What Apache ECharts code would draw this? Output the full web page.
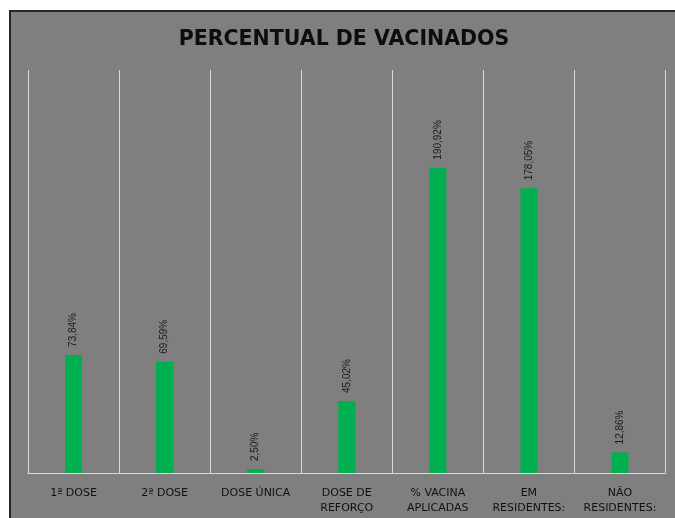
<!DOCTYPE html>
<html lang="pt">

<head>
    <meta charset="UTF-8" />
    <title>Percentual de vacinados</title>
    <script src="https://cdn.jsdelivr.net/npm/echarts@6/dist/echarts.min.js"></script>
    <style>
        html, body { margin: 0; padding: 0; background: #ffffff; overflow: hidden; }
        #main {
            position: absolute; left: 9px; top: 10px;
            width: 666px; height: 508px;
            border: 2px solid #262626;
            background: #7f7f7f;
        }
    </style>
</head>

<body>
    <div id="main"></div>
</body>
<script>
    // dados do grafico
    var categorias = ['1ª DOSE', '2ª DOSE', 'DOSE ÚNICA', 'DOSE DE\nREFORÇO', '% VACINA\nAPLICADAS', 'EM\nRESIDENTES:', 'NÃO\nRESIDENTES:'];
    var percentuais = [73.84, 69.59, 2.50, 45.02, 190.92, 178.05, 12.86];

    var myChart = echarts.init(document.getElementById('main'));

    var option = {
        animation: false,
        title: {
            text: 'PERCENTUAL DE VACINADOS',
            left: 'center',
            top: 12,
            textStyle: {
                fontFamily: 'DejaVu Sans',
                fontWeight: 'bold',
                fontSize: 20.5,
                color: '#0d0d0d'
            }
        },
        grid: {
            left: 17,
            right: 11.5,
            top: 58,
            bottom: 47
        },
        xAxis: [{
            type: 'category',
            data: categorias,
            axisLine: { show: true, lineStyle: { color: '#d9d9d9', width: 1 } },
            axisTick: { show: false },
            splitLine: { show: true, lineStyle: { color: '#d9d9d9', width: 1 } },
            axisLabel: {
                interval: 0,
                margin: 13,
                fontFamily: 'DejaVu Sans',
                fontSize: 11,
                lineHeight: 15,
                color: '#111111'
            }
        }],
        yAxis: [{
            type: 'value',
            min: 0,
            max: 252,
            show: false,
            splitLine: { show: false }
        }],
        series: [{
            name: 'Percentual',
            type: 'bar',
            data: percentuais,
            barWidth: 17,
            itemStyle: { color: '#00b050' },
            label: {
                show: true,
                position: 'top',
                distance: 8,
                rotate: 90,
                align: 'left',
                verticalAlign: 'middle',
                fontFamily: 'Liberation Sans',
                fontSize: 10,
                color: '#1a1a1a',
                formatter: function (params) {
                    return params.value.toFixed(2).replace('.', ',') + '%';
                }
            }
        }]
    };

    myChart.setOption(option);
</script>

</html>
